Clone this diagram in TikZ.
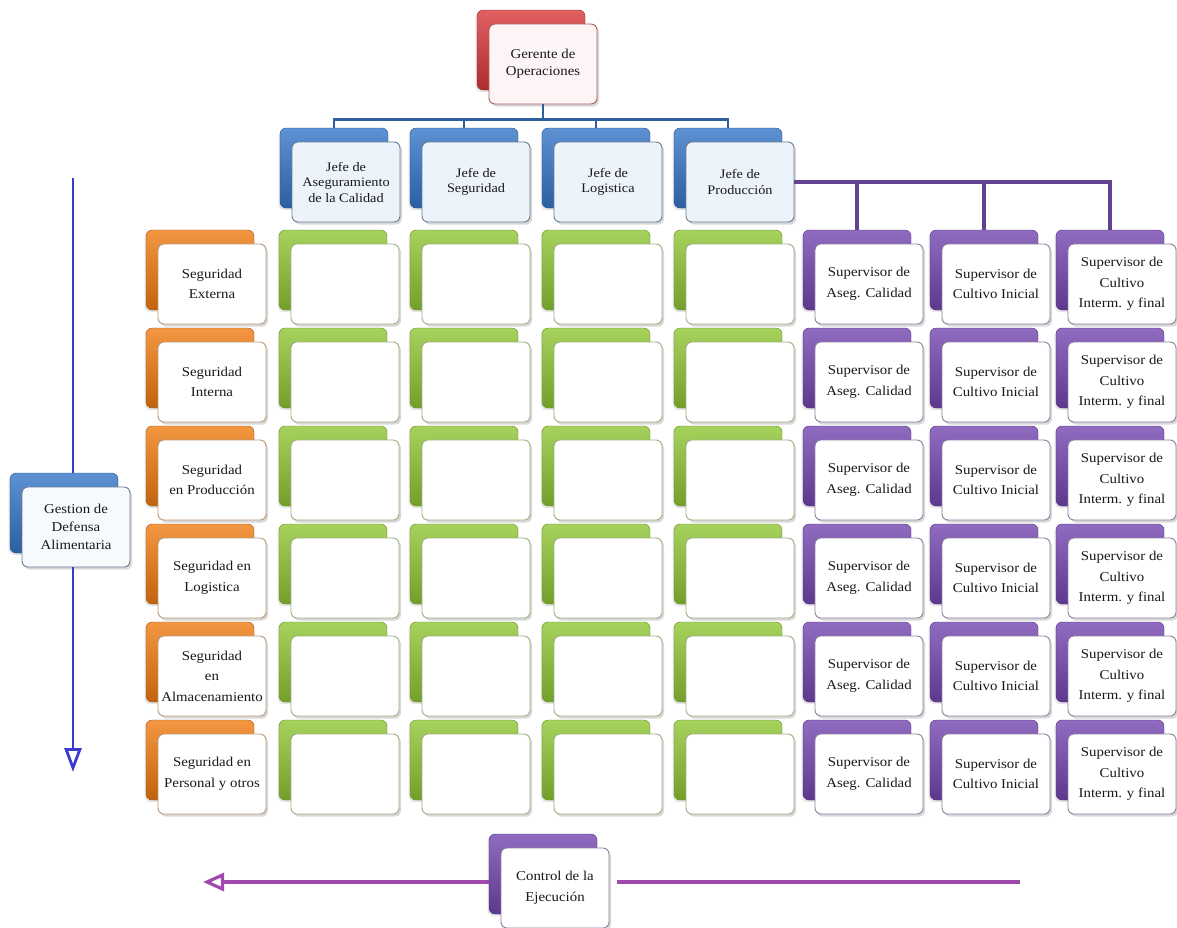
\documentclass[tikz,border=0pt]{standalone}
\usepackage{fontspec}
\setmainfont[FakeStretch=1.1]{Liberation Serif}
\usetikzlibrary{shadows,arrows.meta,calc}

% palette
\definecolor{cRed}{HTML}{D9383A}
\definecolor{cBlue}{HTML}{3576C8}
\definecolor{cOrange}{HTML}{F07C12}
\definecolor{cGreen}{HTML}{8FC634}
\definecolor{cPurple}{HTML}{7447B0}
\definecolor{busBlue}{HTML}{2F5E9E}
\definecolor{busPurple}{HTML}{62438F}
\definecolor{arrBlue}{HTML}{3B3BD0}
\definecolor{arrMag}{HTML}{A148AE}

\tikzset{
  card/.style={rounded corners=6pt, minimum width=108pt, minimum height=80pt,
    inner sep=0pt, align=center, text=black!90},
  backcard/.style={card, draw=#1!70!black, line width=0.4pt,
    top color=#1!80!white, bottom color=#1!80!black,
    drop shadow={shadow xshift=-1.5pt, shadow yshift=-2pt, opacity=0.2}},
  facecard/.style={card, line width=0.9pt,
    drop shadow={shadow xshift=2pt, shadow yshift=-2.5pt, opacity=0.3}},
  gerback/.style={backcard=cRed},
  gerface/.style={facecard, draw=cRed!45!gray, fill=cRed!5!white,
    font=\fontsize{13.5}{17}\selectfont},
  jefeback/.style={backcard=cBlue},
  jefeface/.style={facecard, draw=cBlue!30!gray, fill=cBlue!9!white,
    font=\fontsize{13}{15.5}\selectfont},
  orback/.style={backcard=cOrange},
  orface/.style={facecard, draw=cOrange!40!gray!80, fill=white,
    font=\fontsize{13.5}{20.5}\selectfont},
  grback/.style={backcard=cGreen},
  grface/.style={facecard, draw=cGreen!40!gray!80, fill=white},
  puback/.style={backcard=cPurple},
  puface/.style={facecard, draw=cPurple!40!gray!85, fill=white,
    font=\fontsize{13.5}{20.5}\selectfont},
  gesback/.style={backcard=cBlue},
  gesface/.style={facecard, draw=cBlue!30!gray, fill=cBlue!4!white,
    font=\fontsize{13.5}{18}\selectfont},
  ctlback/.style={backcard=cPurple},
  ctlface/.style={facecard, draw=cPurple!40!gray!85, fill=white,
    font=\fontsize{13.5}{21}\selectfont},
  busline/.style={line width=2.8pt},
}

% a coloured card with a white face: name, x, y, kind, text
\newcommand\card[5]{%
  \node[#4back] (b-#1) at ({#2-12},{#3-14}) {};
  \node[#4face] (#1) at (#2,#3) {#5};
}

\begin{document}
\begin{tikzpicture}[x=1pt, y=-1pt]
\useasboundingbox[fill=white] (0,0) rectangle (1177,927);

% top of the hierarchy
\card{ger}{543}{64}{ger}{Gerente de\\Operaciones}
\card{j1}{346}{182}{jefe}{Jefe de\\Aseguramiento\\de la Calidad}
\card{j2}{476}{182}{jefe}{Jefe de\\Seguridad}
\card{j3}{608}{182}{jefe}{Jefe de\\Logistica}
\card{j4}{740}{182}{jefe}{Jefe de\\Producción}

% rows of the matrix
\foreach \t [count=\r] in {{Seguridad\\Externa},{Seguridad\\Interna},
    {Seguridad\\en Producción},{Seguridad en\\Logistica},
    {Seguridad\\en\\Almacenamiento},{Seguridad en\\Personal y otros}}{
  \pgfmathsetmacro{\yy}{284+98*(\r-1)}
  \card{o\r}{212}{\yy}{or}{\t}
  \card{g\r1}{345}{\yy}{gr}{}
  \card{g\r2}{476}{\yy}{gr}{}
  \card{g\r3}{608}{\yy}{gr}{}
  \card{g\r4}{740}{\yy}{gr}{}
  \card{s\r1}{869}{\yy}{pu}{Supervisor de\\Aseg. Calidad}
  \card{s\r2}{996}{\yy}{pu}{Supervisor de\\Cultivo Inicial}
  \card{s\r3}{1122}{\yy}{pu}{Supervisor de\\Cultivo\\Interm. y final}
}

% side and bottom cards
\card{ges}{76}{527}{ges}{Gestion de\\Defensa\\Alimentaria}
\card{ctl}{555}{888}{ctl}{Control de la\\Ejecución}

% organisational connectors
\foreach \j in {1,...,4}
  \draw[busline, busBlue] (ger.south) -- ++(0,15) -| (b-j\j.north);
\foreach \c in {1,2,3}
  \draw[busline, busPurple, line width=3.2pt] (j4.east) -| (b-s1\c.north);

% vertical management arrow
\coordinate (vtop) at (73,178);
\coordinate (vbot) at (73,772);
\draw[arrBlue, line width=2.8pt] (vtop) -- (vtop |- b-ges.north);
\draw[arrBlue, line width=2.8pt, -{Triangle[open, length=24pt, width=17pt]}]
  (vtop |- ges.south) -- (vbot);

% horizontal control arrow
\coordinate (hleft) at (203,882);
\coordinate (hright) at (1020,882);
\draw[arrMag, line width=3.2pt, shorten >=8pt] (hright) -- (ctl.east |- hright);
\draw[arrMag, line width=3.2pt, -{Triangle[open, length=21pt, width=18pt]}]
  (b-ctl.west |- hleft) -- (hleft);
\end{tikzpicture}
\end{document}
